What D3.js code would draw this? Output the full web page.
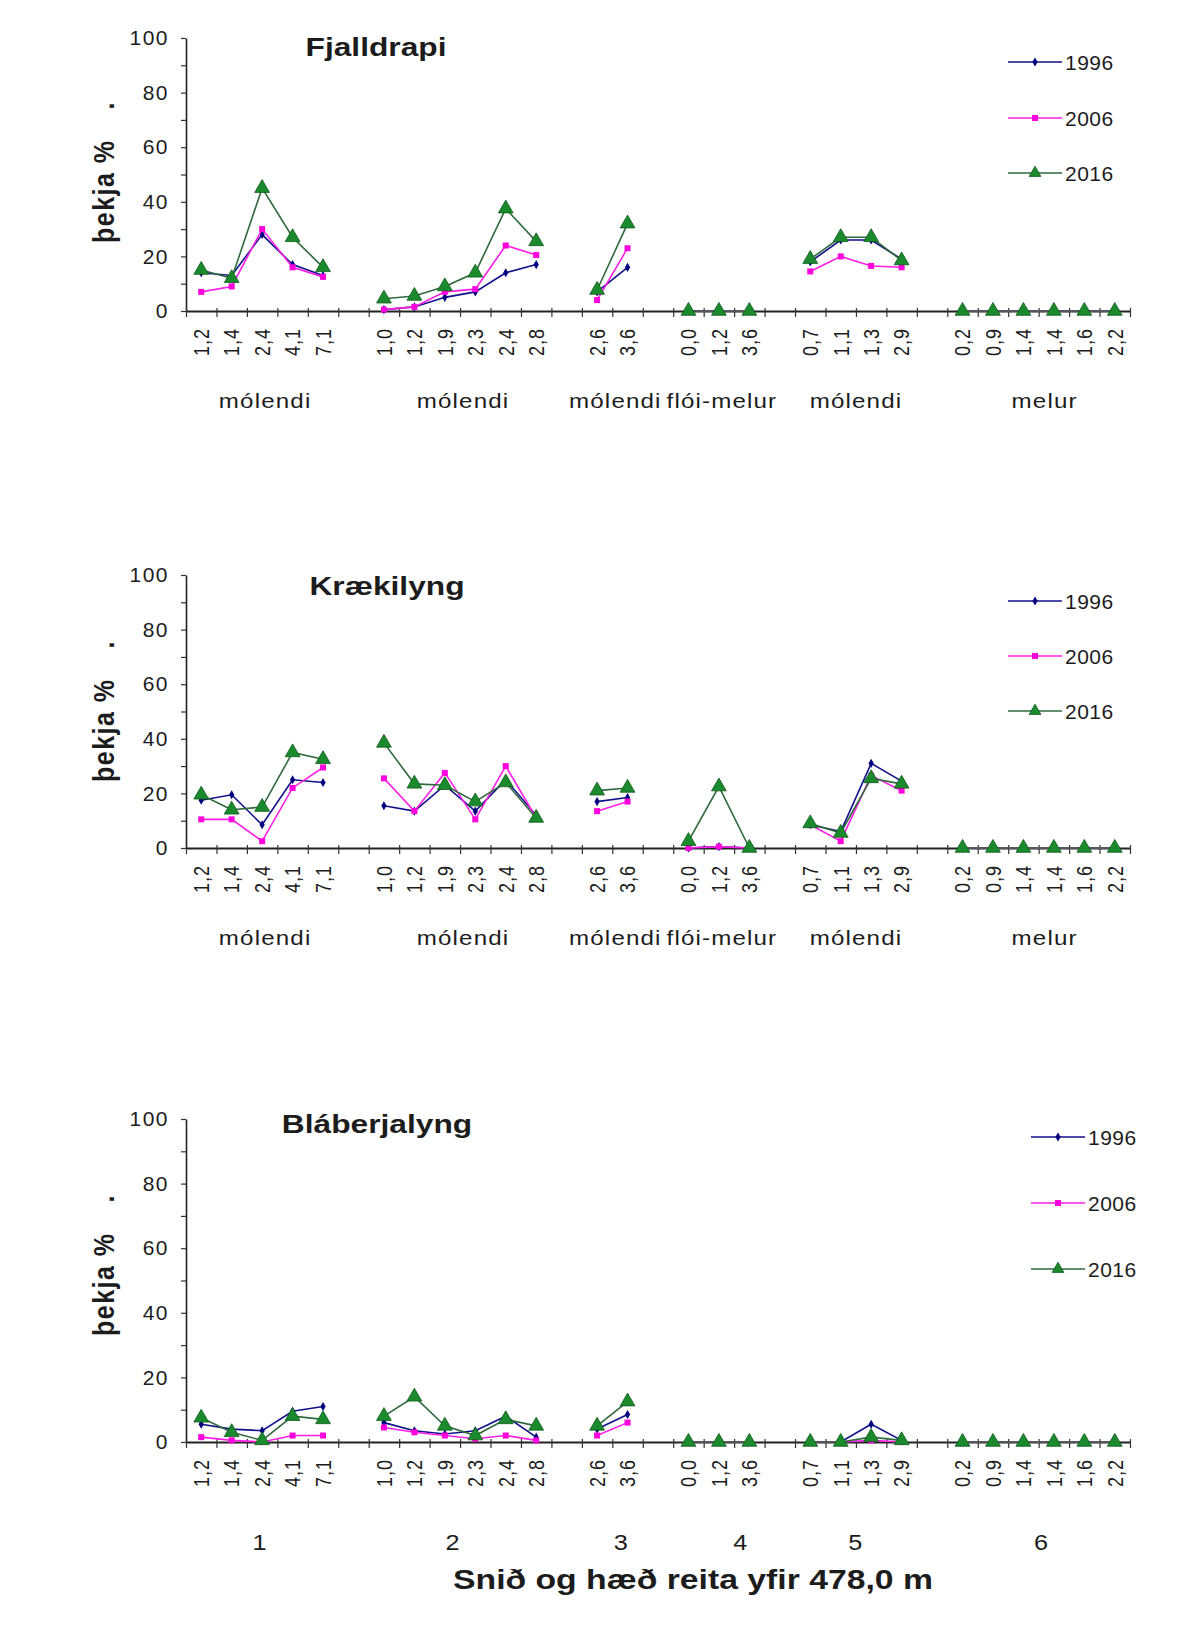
<!DOCTYPE html>
<html>
<head>
<meta charset="utf-8">
<script src="https://cdn.jsdelivr.net/npm/d3@7/dist/d3.min.js"></script>
<style>
  html, body { margin: 0; padding: 0; background: #ffffff; }
  svg { display: block; }
  text { font-family: "Liberation Sans", Arial, sans-serif; fill: #1c1c1c; }
</style>
</head>
<body>
<svg id="chart" width="1197" height="1650"></svg>
<script>
// Plot heights (m above 478,0 m) along the six transects; "" marks the gap between transects
const xLabels = ["1,2","1,4","2,4","4,1","7,1","",
                 "1,0","1,2","1,9","2,3","2,4","2,8","",
                 "2,6","3,6","",
                 "0,0","1,2","3,6","",
                 "0,7","1,1","1,3","2,9","",
                 "0,2","0,9","1,4","1,4","1,6","2,2"];
const years = ["1996", "2006", "2016"];
const habitatNames = ["mólendi", "mólendi", "mólendi", "flói-melur", "mólendi", "melur"];
const transectNames = ["1", "2", "3", "4", "5", "6"];
const transectSpans = [[0, 4], [6, 11], [13, 14], [16, 18], [20, 23], [25, 30]];
const yTickValues = [0, 10, 20, 30, 40, 50, 60, 70, 80, 90, 100];
const speciesNames = ["Fjalldrapi", "Krækilyng", "Bláberjalyng"];

// Cover (þekja %) per plot
const fjalldrapi1996 = [14, 13, 28, 17, 13, null, 0.5, 1.5, 5, 7, 14, 17, null, 7, 16, null, 0, 0, 0, null, 18, 26, 26, 19, null, 0, 0, 0, 0, 0, 0];
const fjalldrapi2006 = [7, 9, 30, 16, 12.5, null, 0.5, 1.5, 7, 8, 24, 20.5, null, 4, 23, null, 0, 0, 0, null, 14.5, 20, 16.5, 16, null, 0, 0, 0, 0, 0, 0];
const fjalldrapi2016 = [15, 12, 45, 27, 16, null, 4.5, 5.5, 9, 14, 37.5, 25.5, null, 7.7, 32, null, 0, 0, 0, null, 19, 27, 27, 18.5, null, 0, 0, 0, 0, 0, 0];

const kraekilyng1996 = [17.5, 19.5, 8.5, 25, 24, null, 15.5, 13.5, 23, 13.5, 25, 12, null, 17, 18.5, null, 0, 0.5, 0, null, 8.5, 6, 31, 24.5, null, 0, 0, 0, 0, 0, 0];
const kraekilyng2006 = [10.5, 10.5, 2.5, 22, 29.5, null, 25.5, 13.5, 27.5, 10.5, 30, 11, null, 13.5, 17, null, 0, 0.5, 0, null, 8.5, 2.5, 26.5, 21, null, 0, 0, 0, 0, 0, 0];
const kraekilyng2016 = [19.5, 14, 15, 35, 32.5, null, 38.5, 23.5, 23, 17, 24, 11, null, 21, 22, null, 2.5, 22.5, 0, null, 9, 5.5, 25.5, 23.5, null, 0, 0, 0, 0, 0, 0];

const blaberjalyng1996 = [5.5, 4, 3.5, 9.5, 11, null, 6, 3.5, 2.5, 3.5, 8, 1.5, null, 4, 8.5, null, 0, 0, 0, null, 0, 0, 5.5, 0.5, null, 0, 0, 0, 0, 0, 0];
const blaberjalyng2006 = [1.5, 0.5, 0, 2, 2, null, 4.5, 3, 2, 1, 2, 0.5, null, 2, 6, null, 0, 0, 0, null, 0, 0, 0.5, 0, null, 0, 0, 0, 0, 0, 0];
const blaberjalyng2016 = [7.5, 3, 0.5, 8, 7, null, 8, 14, 5, 2, 7, 5, null, 5, 12.5, null, 0, 0, 0, null, 0, 0, 1.5, 0.5, null, 0, 0, 0, 0, 0, 0];

// Layout of the three panels
const panels = [
  { title: speciesNames[0], series: [fjalldrapi1996, fjalldrapi2006, fjalldrapi2016],
    y100: 38, y0: 311, titleX: 376, titleY: 56, groupNames: habitatNames, groupDy: 97, groupFont: 21,
    groupShift: [3, 3, 3, 3, 0, 6],
    legendX: [1008, 1062], legendY: [62, 118, 173], yTitleStart: 68, dotGap: 30 },
  { title: speciesNames[1], series: [kraekilyng1996, kraekilyng2006, kraekilyng2016],
    y100: 575, y0: 848, titleX: 387, titleY: 595, groupNames: habitatNames, groupDy: 97, groupFont: 21,
    groupShift: [3, 3, 3, 3, 0, 6],
    legendX: [1008, 1062], legendY: [601, 656, 711], yTitleStart: 66, dotGap: 30 },
  { title: speciesNames[2], series: [blaberjalyng1996, blaberjalyng2006, blaberjalyng2016],
    y100: 1119, y0: 1442, titleX: 377, titleY: 1133, groupNames: transectNames, groupDy: 108, groupFont: 22,
    groupShift: [-2, -7, 9, 22, 0, 3],
    legendX: [1031, 1085], legendY: [1137, 1203, 1269], yTitleStart: 106, dotGap: 30 }
];

const seriesStyle = [
  { line: "#10108a", fill: "#000080", stroke: "none", symbol: d3.symbolDiamond, size: 24 },
  { line: "#ff1ee6", fill: "#ff00dd", stroke: "none", symbol: d3.symbolSquare, size: 36 },
  { line: "#2f6a3c", fill: "#1a8a2c", stroke: "#0f5a1c", symbol: d3.symbolTriangle, size: 95 }
];

const svg = d3.select("#chart");
const xLeft = 186, xRight = 1130;
const nCat = xLabels.length;

const xBand = d3.scaleBand().domain(d3.range(nCat)).range([xLeft, xRight]).padding(0);
const cx = i => xBand(i) + xBand.bandwidth() / 2;
const xEdge = d3.scaleLinear().domain([0, nCat]).range([xLeft, xRight]);

panels.forEach(p => {
  const g = svg.append("g");
  const y = d3.scaleLinear().domain([0, 100]).range([p.y0, p.y100]);

  // y axis
  const yAxis = d3.axisLeft(y)
    .tickValues(yTickValues)
    .tickSize(5)
    .tickSizeOuter(0)
    .tickPadding(12)
    .tickFormat(d => d % 20 === 0 ? d : "");
  const ya = g.append("g").attr("transform", `translate(${xLeft},0)`).call(yAxis);
  ya.select(".domain").attr("stroke", "#222").attr("stroke-width", 1.6);
  ya.selectAll(".tick line").attr("stroke", "#333").attr("stroke-width", 1.2);
  ya.selectAll(".tick text")
    .attr("font-size", 21)
    .attr("letter-spacing", 1.5)
    .attr("fill", "#1c1c1c")
    .style("font-family", '"Liberation Sans", Arial, sans-serif');

  // x axis: ticks between categories
  const xAxis = d3.axisBottom(xEdge)
    .tickValues(d3.range(nCat + 1))
    .tickSize(6)
    .tickSizeOuter(0)
    .tickFormat("");
  const xa = g.append("g").attr("transform", `translate(0,${p.y0})`).call(xAxis);
  xa.select(".domain").attr("stroke", "#222").attr("stroke-width", 1.8);
  xa.selectAll(".tick line").attr("stroke", "#333").attr("stroke-width", 1.2).attr("y1", -3);

  // category labels, rotated
  g.append("g").selectAll("g.cat")
    .data(xLabels.map((l, i) => ({ l, i })).filter(d => d.l !== ""))
    .join("g")
    .attr("class", "cat")
    .attr("transform", d => `translate(${cx(d.i)},${p.y0 + 17}) scale(1.2,1) rotate(-90)`)
    .append("text")
    .attr("text-anchor", "end")
    .attr("dy", "0.36em")
    .attr("font-size", 18)
    .attr("letter-spacing", 1)
    .text(d => d.l);

  // transect / habitat labels
  g.append("g").selectAll("g.grp")
    .data(transectSpans.map((s, k) => ({ s, k, name: p.groupNames[k] })))
    .join("g")
    .attr("class", "grp")
    .attr("transform", d => `translate(${(cx(d.s[0]) + cx(d.s[1])) / 2 + p.groupShift[d.k]},${p.y0 + p.groupDy}) scale(1.15,1)`)
    .append("text")
    .attr("text-anchor", "middle")
    .attr("font-size", p.groupFont)
    .attr("letter-spacing", 1)
    .text(d => d.name);

  // y axis title
  const yt = g.append("g")
    .attr("transform", `translate(114,${p.y0 - p.yTitleStart}) scale(1.2,1) rotate(-90)`)
    .append("text")
    .attr("text-anchor", "start")
    .attr("font-size", 25)
    .attr("font-weight", "bold")
    .attr("letter-spacing", 1.5);
  yt.append("tspan").text("þekja %");
  yt.append("tspan").attr("dx", p.dotGap).text(".");

  // chart title
  g.append("g")
    .attr("transform", `translate(${p.titleX},${p.titleY}) scale(1.22,1)`)
    .append("text")
    .attr("text-anchor", "middle")
    .attr("font-size", 26)
    .attr("font-weight", "bold")
    .text(p.title);

  // series lines and markers
  p.series.forEach((vals, s) => {
    const st = seriesStyle[s];
    const line = d3.line()
      .defined(d => d != null)
      .x((d, i) => cx(i))
      .y(d => y(d));
    g.append("path")
      .datum(vals)
      .attr("fill", "none")
      .attr("stroke", st.line)
      .attr("stroke-width", 1.6)
      .attr("d", line);
    g.append("g").selectAll("path")
      .data(vals.map((v, i) => ({ v, i })).filter(d => d.v != null))
      .join("path")
      .attr("transform", d => `translate(${cx(d.i)},${y(d.v)})`)
      .attr("d", d3.symbol(st.symbol, st.size))
      .attr("fill", st.fill)
      .attr("stroke", st.stroke)
      .attr("stroke-width", 0.8);
  });

  // legend
  years.forEach((yr, s) => {
    const st = seriesStyle[s];
    const ly = p.legendY[s];
    const lg = g.append("g");
    lg.append("line")
      .attr("x1", p.legendX[0]).attr("x2", p.legendX[1])
      .attr("y1", ly).attr("y2", ly)
      .attr("stroke", st.line).attr("stroke-width", 1.5);
    lg.append("path")
      .attr("transform", `translate(${(p.legendX[0] + p.legendX[1]) / 2},${ly})`)
      .attr("d", d3.symbol(st.symbol, s === 2 ? 60 : st.size))
      .attr("fill", st.fill)
      .attr("stroke", st.stroke)
      .attr("stroke-width", 0.8);
    lg.append("text")
      .attr("x", p.legendX[1] + 3)
      .attr("y", ly)
      .attr("dy", "0.36em")
      .attr("font-size", 21)
      .attr("letter-spacing", 0.5)
      .text(yr);
  });
});

// x axis title under the last panel
svg.append("g")
  .attr("transform", "translate(693,1589) scale(1.25,1)")
  .append("text")
  .attr("text-anchor", "middle")
  .attr("font-size", 27)
  .attr("font-weight", "bold")
  .text("Snið og hæð reita yfir 478,0 m");
</script>
</body>
</html>
